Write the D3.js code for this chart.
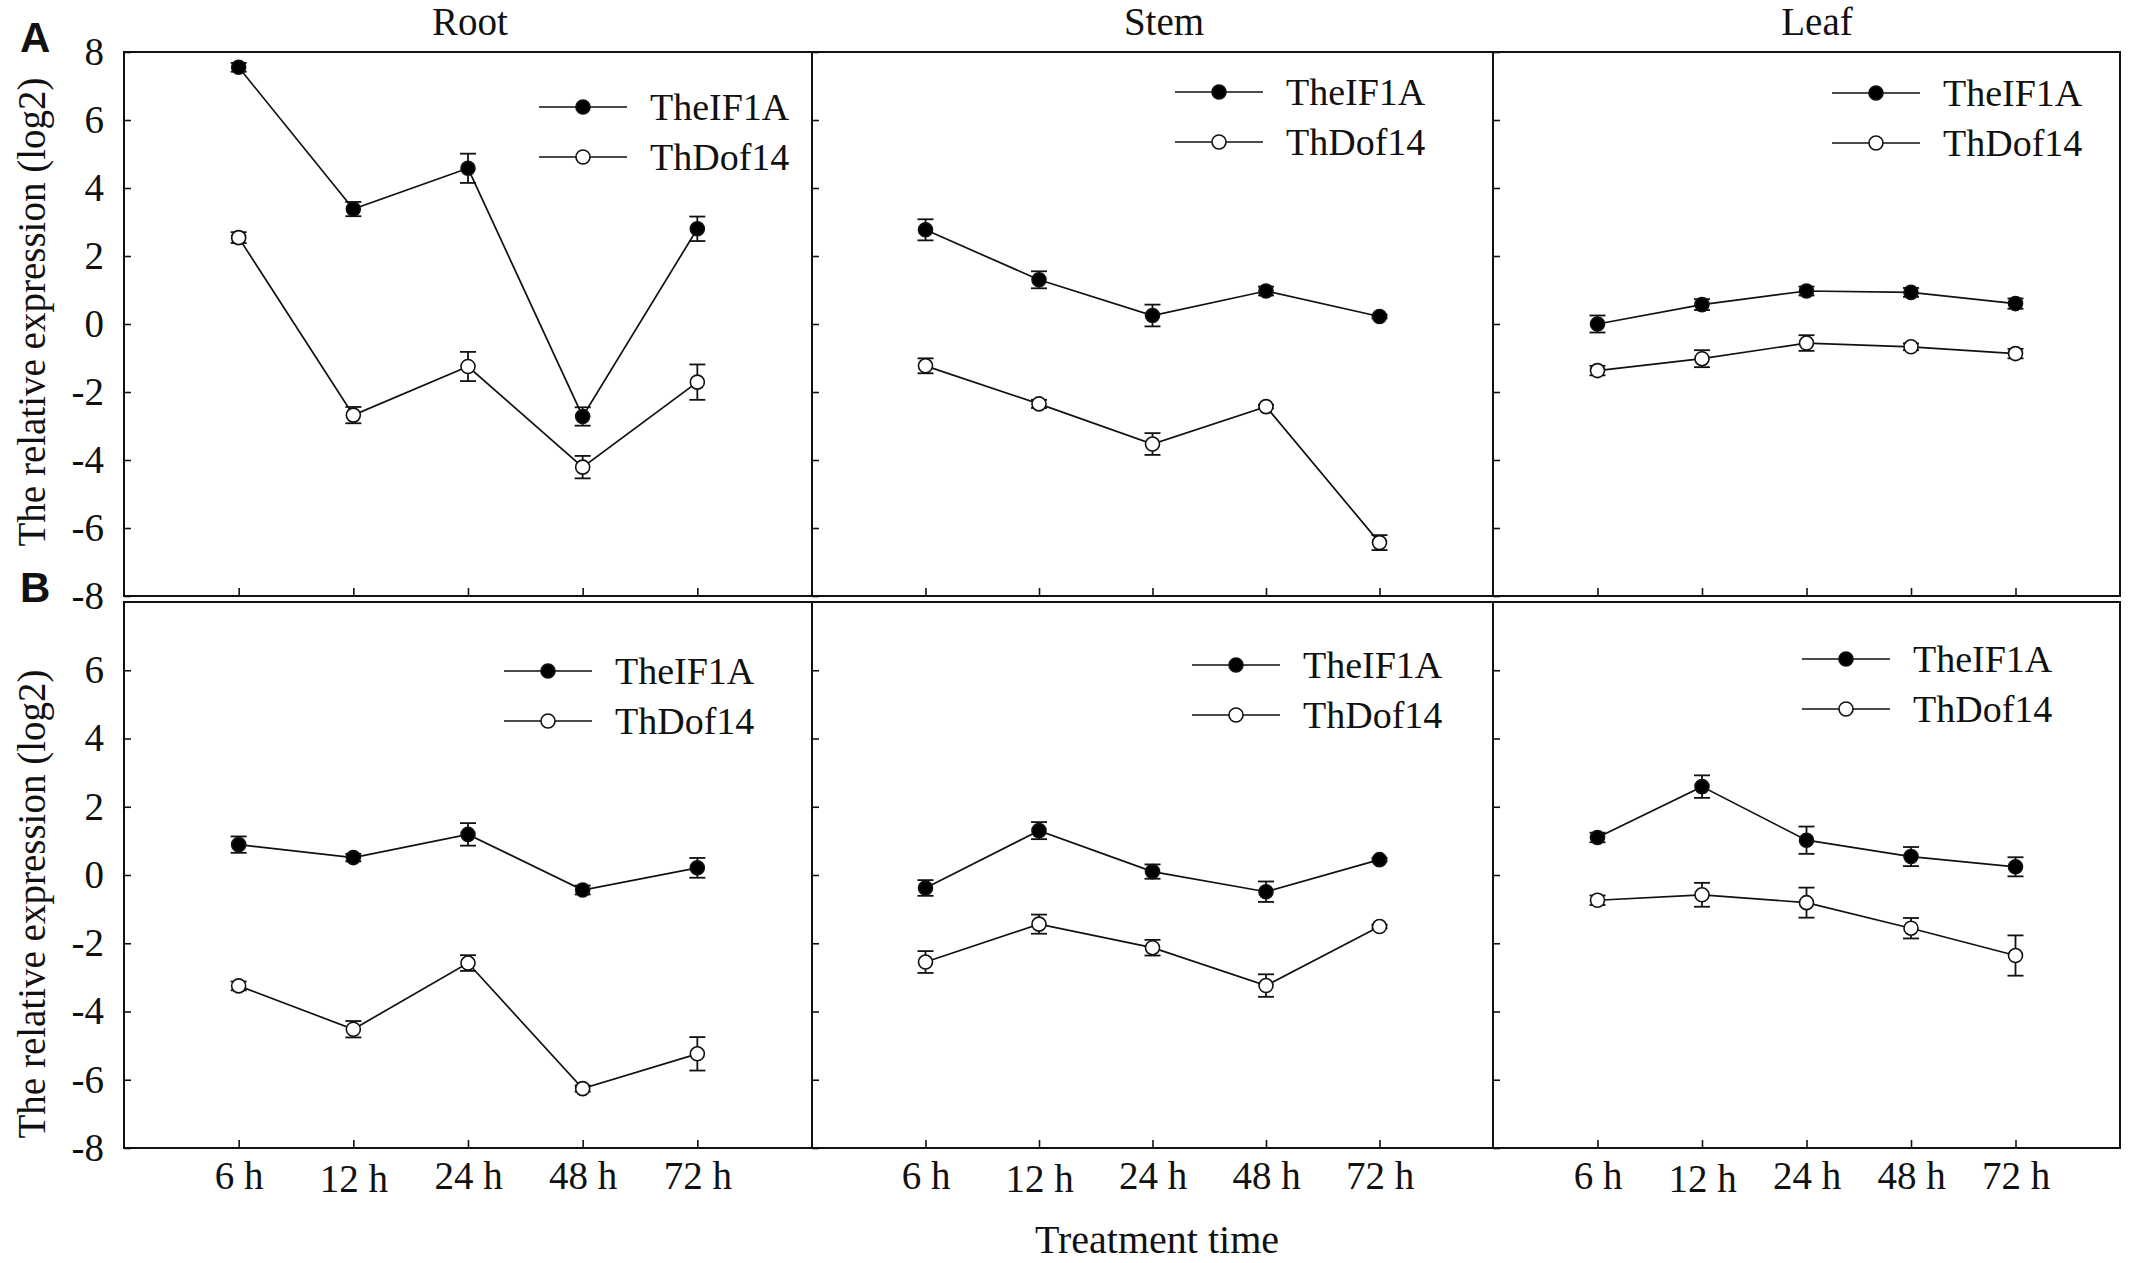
<!DOCTYPE html>
<html>
<head>
<meta charset="utf-8">
<script src="https://cdn.jsdelivr.net/npm/d3@7"></script>
<style>
  body { margin: 0; background: #fff; }
  svg { display: block; }
  text { font-family: "Liberation Serif", "Times New Roman", serif; fill: #111; }
</style>
</head>
<body>
<svg id="chart" width="2142" height="1263"></svg>
<script>
// categories
const times = ["6 h", "12 h", "24 h", "48 h", "72 h"];
const tissues = ["Root", "Stem", "Leaf"];
const genes = ["TheIF1A", "ThDof14"];
const yTickValues = [8, 6, 4, 2, 0, -2, -4, -6, -8];

// row A (mean, error)
const rootA_eIF = [7.55, 3.38, 4.58, -2.72, 2.80];
const rootA_eIFErr = [0.13, 0.21, 0.43, 0.27, 0.36];
const rootA_dof = [2.54, -2.68, -1.25, -4.21, -1.71];
const rootA_dofErr = [0.16, 0.24, 0.43, 0.33, 0.52];
const stemA_eIF = [2.77, 1.30, 0.25, 0.97, 0.22];
const stemA_eIFErr = [0.31, 0.25, 0.32, 0.13, 0.05];
const stemA_dof = [-1.23, -2.35, -3.53, -2.43, -6.43];
const stemA_dofErr = [0.22, 0.12, 0.32, 0.05, 0.22];
const leafA_eIF = [0.0, 0.57, 0.97, 0.93, 0.60];
const leafA_eIFErr = [0.25, 0.16, 0.13, 0.13, 0.15];
const leafA_dof = [-1.37, -1.02, -0.56, -0.67, -0.87];
const leafA_dofErr = [0.14, 0.25, 0.23, 0.10, 0.14];

// row B (mean, error)
const rootB_eIF = [0.89, 0.51, 1.19, -0.44, 0.21];
const rootB_eIFErr = [0.24, 0.11, 0.33, 0.13, 0.29];
const rootB_dof = [-3.25, -4.52, -2.58, -6.26, -5.24];
const rootB_dofErr = [0.13, 0.24, 0.23, 0.09, 0.49];
const stemB_eIF = [-0.38, 1.30, 0.10, -0.49, 0.45];
const stemB_eIFErr = [0.23, 0.25, 0.21, 0.30, 0.05];
const stemB_dof = [-2.55, -1.44, -2.13, -3.24, -1.51];
const stemB_dofErr = [0.32, 0.28, 0.23, 0.33, 0.05];
const leafB_eIF = [1.10, 2.59, 1.02, 0.54, 0.24];
const leafB_eIFErr = [0.14, 0.33, 0.40, 0.28, 0.28];
const leafB_dof = [-0.74, -0.58, -0.81, -1.56, -2.36];
const leafB_dofErr = [0.14, 0.35, 0.44, 0.30, 0.59];

const seriesData = [
  [[rootA_eIF, rootA_eIFErr, rootA_dof, rootA_dofErr],
   [stemA_eIF, stemA_eIFErr, stemA_dof, stemA_dofErr],
   [leafA_eIF, leafA_eIFErr, leafA_dof, leafA_dofErr]],
  [[rootB_eIF, rootB_eIFErr, rootB_dof, rootB_dofErr],
   [stemB_eIF, stemB_eIFErr, stemB_dof, stemB_dofErr],
   [leafB_eIF, leafB_eIFErr, leafB_dof, leafB_dofErr]]
];

// layout
const cols = [
  {x0: 124, x1: 812, titleX: 470},
  {x0: 812, x1: 1493, titleX: 1164},
  {x0: 1493, x1: 2120, titleX: 1817}
];
const rows = [
  {y0: 52, y1: 596, tag: "A", tagY: 52, labelY: 312},
  {y0: 602, y1: 1148, tag: "B", tagY: 602, labelY: 904}
];
const legendPos = [
  [{x: 539, y: 107}, {x: 1175, y: 92}, {x: 1832, y: 93}],
  [{x: 504, y: 671}, {x: 1192, y: 665}, {x: 1802, y: 659}]
];

const svg = d3.select('#chart');
const R = 7, cap = 8;
const serif = '"Liberation Serif", "Times New Roman", serif';

rows.forEach((row, ri) => {
  const y = d3.scaleLinear().domain([-8, 8]).range([row.y1, row.y0]);

  cols.forEach((col, ci) => {
    const x = d3.scaleLinear().domain([0, 6]).range([col.x0, col.x1]);
    const g = svg.append('g');

    // y axis, ticks point inward
    const yAxis = d3.axisLeft(y)
      .tickValues(ri === 1 ? yTickValues.slice(1) : yTickValues)
      .tickSizeInner(-7).tickSizeOuter(0).tickPadding(20)
      .tickFormat(ci === 0 ? (d => String(d)) : '');
    const ya = g.append('g').attr('transform', `translate(${col.x0},0)`).call(yAxis)
      .attr('font-family', serif).attr('font-size', 39);
    ya.select('.domain').remove();
    ya.selectAll('line').attr('stroke', '#111').attr('stroke-width', 1.6);
    ya.selectAll('text').attr('fill', '#111');

    // x axis, ticks point inward
    const xAxis = d3.axisBottom(x)
      .tickValues(d3.range(1, times.length + 1))
      .tickSizeInner(-8).tickSizeOuter(0).tickPadding(13)
      .tickFormat(ri === 1 ? (d => times[d - 1]) : '');
    const xa = g.append('g').attr('transform', `translate(0,${row.y1})`).call(xAxis)
      .attr('font-family', serif).attr('font-size', 39);
    xa.select('.domain').remove();
    xa.selectAll('line').attr('stroke', '#111').attr('stroke-width', 1.6);
    xa.selectAll('text').attr('fill', '#111')
      .attr('dy', (d, i) => i === 1 ? '0.8em' : '0.71em');

    // frame
    g.append('rect')
      .attr('x', col.x0).attr('y', row.y0)
      .attr('width', col.x1 - col.x0).attr('height', row.y1 - row.y0)
      .attr('fill', 'none').attr('stroke', '#111').attr('stroke-width', 2);

    const [eIF, eIFErr, dof, dofErr] = seriesData[ri][ci];
    const sets = [
      {vals: eIF, errs: eIFErr, fill: '#000'},
      {vals: dof, errs: dofErr, fill: '#fff'}
    ];
    const line = d3.line().x((d, i) => x(i + 1)).y(d => y(d));

    sets.forEach(s => {
      const pts = s.vals.map((v, i) => ({i, v, e: s.errs[i]}));
      g.append('path').datum(s.vals).attr('d', line)
        .attr('fill', 'none').attr('stroke', '#111').attr('stroke-width', 1.7);

      const eb = g.append('g').selectAll('g').data(pts).join('g')
        .attr('stroke', '#111').attr('stroke-width', 1.8);
      eb.append('line')
        .attr('x1', d => x(d.i + 1)).attr('x2', d => x(d.i + 1))
        .attr('y1', d => y(d.v + d.e)).attr('y2', d => y(d.v - d.e));
      eb.append('line')
        .attr('x1', d => x(d.i + 1) - cap).attr('x2', d => x(d.i + 1) + cap)
        .attr('y1', d => y(d.v + d.e)).attr('y2', d => y(d.v + d.e));
      eb.append('line')
        .attr('x1', d => x(d.i + 1) - cap).attr('x2', d => x(d.i + 1) + cap)
        .attr('y1', d => y(d.v - d.e)).attr('y2', d => y(d.v - d.e));

      g.append('g').selectAll('circle').data(pts).join('circle')
        .attr('cx', d => x(d.i + 1)).attr('cy', d => y(d.v)).attr('r', R)
        .attr('fill', s.fill).attr('stroke', '#111').attr('stroke-width', 1.6);
    });

    // legend
    const lp = legendPos[ri][ci];
    genes.forEach((name, k) => {
      const ly = lp.y + k * 50;
      g.append('line').attr('x1', lp.x).attr('x2', lp.x + 88)
        .attr('y1', ly).attr('y2', ly).attr('stroke', '#111').attr('stroke-width', 1.6);
      g.append('circle').attr('cx', lp.x + 44).attr('cy', ly).attr('r', R)
        .attr('fill', k === 0 ? '#000' : '#fff').attr('stroke', '#111').attr('stroke-width', 1.6);
      g.append('text').attr('x', lp.x + 111).attr('y', ly).attr('dy', '0.35em')
        .style('font-size', '38px').text(name);
    });

    if (ri === 0) {
      svg.append('text').attr('x', col.titleX).attr('y', 35)
        .attr('text-anchor', 'middle').style('font-size', '39px').text(tissues[ci]);
    }
  });

  // row tag and y label
  svg.append('text').attr('x', 20).attr('y', row.tagY)
    .style('font-family', '"Liberation Sans", Arial, sans-serif')
    .style('font-weight', 'bold').style('font-size', '42px').text(row.tag);
  svg.append('text')
    .attr('transform', `translate(45,${row.labelY}) rotate(-90)`)
    .attr('text-anchor', 'middle').style('font-size', '39px')
    .text('The relative expression (log2)');
});

svg.append('text').attr('x', 1157).attr('y', 1253)
  .attr('text-anchor', 'middle').style('font-size', '40px').text('Treatment time');
</script>
</body>
</html>
